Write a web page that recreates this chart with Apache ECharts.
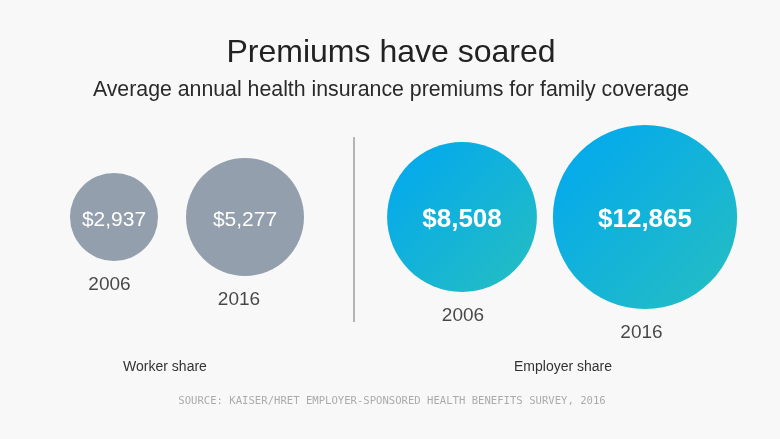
<!DOCTYPE html>
<html>
<head>
<meta charset="utf-8">
<script src="https://cdn.jsdelivr.net/npm/echarts@6/dist/echarts.min.js"></script>
<style>
html,body{margin:0;padding:0;background:#f8f8f8;}
#chart{width:780px;height:439px;}
</style>
</head>
<body>
<div id="chart"></div>
<script>
// ---- data ----
var years = ['2006', '2016'];
var workerShare = [2937, 5277];
var employerShare = [8508, 12865];
var groupNames = ['Worker share', 'Employer share'];
var titleText = 'Premiums have soared';
var subtitleText = 'Average annual health insurance premiums for family coverage';
var sourceText = 'SOURCE: KAISER/HRET EMPLOYER-SPONSORED HEALTH BENEFITS SURVEY, 2016';

// ---- styles ----
var FONT = '"Liberation Sans", Arial, Helvetica, sans-serif';
var sizeK = 1.624; // diameter per sqrt(dollar)
var yearNudge = [[-4.5, -6], [1, -3.5]]; // small horizontal label shifts (style only)
function fmt(v){ return '$' + v.toLocaleString('en-US'); }
function sym(v){ return Math.sqrt(v[2]) * sizeK; }

var chart = echarts.init(document.getElementById('chart'), null, {renderer:'canvas'});

function build(values){
  return years.map(function(y, i){ return [y, 'share', values[i]]; });
}

var blueGrad = new echarts.graphic.LinearGradient(0, 0, 1, 1, [
  {offset:0, color:'#00a7f1'},
  {offset:1, color:'#26bfc0'}
]);

function circleSeries(values, gi, color, bold){
  return {
    type:'scatter', xAxisIndex:gi, yAxisIndex:gi,
    data: build(values),
    symbol:'circle', symbolSize: sym,
    itemStyle:{color: color, opacity:1},
    emphasis:{disabled:true}, silent:true,
    label:{
      show:true, position:'inside', offset:[0,3],
      formatter:function(p){ return fmt(p.value[2]); },
      color:'#ffffff', fontFamily: FONT,
      fontSize: bold ? 26 : 21, fontWeight: bold ? 'bold' : 'normal'
    },
    z:2
  };
}
function yearSeries(values, gi){
  return {
    type:'scatter', xAxisIndex:gi, yAxisIndex:gi,
    data: build(values).map(function(d, i){
      return {value:d, label:{offset:[yearNudge[gi][i], 0]}};
    }),
    symbol:'circle', symbolSize: sym,
    itemStyle:{color:'rgba(0,0,0,0)'},
    emphasis:{disabled:true}, silent:true,
    label:{
      show:true, position:'bottom', distance:14,
      formatter:function(p){ return p.value[0]; },
      color:'#1a1a1a', fontFamily: FONT, fontSize:19
    },
    z:3
  };
}

var hiddenX = {type:'category', data:years, boundaryGap:true, show:false};
var hiddenY = {type:'category', data:['share'], show:false};

chart.setOption({
  backgroundColor:'#f8f8f8',
  animation:false,
  grid:[
    {left:48.5, width:262, top:137, height:160},
    {left:370.5, width:366, top:137, height:160}
  ],
  xAxis:[Object.assign({gridIndex:0}, hiddenX), Object.assign({gridIndex:1}, hiddenX)],
  yAxis:[Object.assign({gridIndex:0}, hiddenY), Object.assign({gridIndex:1}, hiddenY)],
  series:[
    circleSeries(workerShare, 0, '#939fad', false),
    circleSeries(employerShare, 1, blueGrad, true),
    yearSeries(workerShare, 0),
    yearSeries(employerShare, 1)
  ],
  graphic:[
    {type:'text', x:391, y:53, style:{text:titleText, fill:'#222222', font:'32px ' + FONT, textAlign:'center', textVerticalAlign:'middle'}},
    {type:'text', x:391, y:90, style:{text:subtitleText, fill:'#2a2a2a', font:'21.3px ' + FONT, textAlign:'center', textVerticalAlign:'middle'}},
    {type:'line', shape:{x1:354, y1:137, x2:354, y2:322}, style:{stroke:'#b4b4b4', lineWidth:2}},
    {type:'text', x:165, y:367, style:{text:groupNames[0], fill:'#333333', font:'14px ' + FONT, textAlign:'center', textVerticalAlign:'middle'}},
    {type:'text', x:563, y:367, style:{text:groupNames[1], fill:'#333333', font:'14px ' + FONT, textAlign:'center', textVerticalAlign:'middle'}},
    {type:'text', x:392, y:401, style:{text:sourceText, fill:'#ababab', font:'10.6px "DejaVu Sans Mono", monospace', textAlign:'center', textVerticalAlign:'middle'}}
  ]
});
</script>
</body>
</html>
